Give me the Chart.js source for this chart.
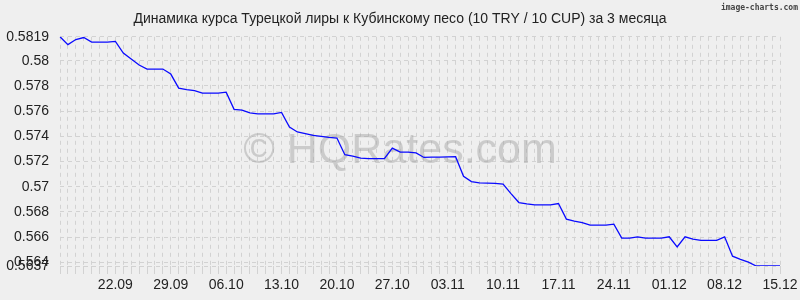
<!DOCTYPE html>
<html>
<head>
<meta charset="utf-8">
<script src="https://cdn.jsdelivr.net/npm/chart.js@4"></script>
<style>
  html, body { margin: 0; padding: 0; background: #efefef; }
  #wrap { width: 800px; height: 300px; position: relative; }
</style>
</head>
<body>
<div id="wrap"><canvas id="rateChart"></canvas></div>
<script>
// daily rate, 15.09 .. 15.12
var startDay = [2023, 8, 15];
var rates = [
  0.5819, 0.58128, 0.58168, 0.58184, 0.58148, 0.58148, 0.58148, 0.58153,
  0.58061, 0.58013, 0.57966, 0.57934, 0.57934, 0.57934, 0.57894, 0.57782,
  0.5777, 0.57762, 0.57742, 0.57742, 0.57742, 0.5775, 0.57614, 0.57608,
  0.57586, 0.57578, 0.57578, 0.57578, 0.5759, 0.57474, 0.57434, 0.57422,
  0.57408, 0.574, 0.57392, 0.57386, 0.57254, 0.57242, 0.57226, 0.57222,
  0.57222, 0.57222, 0.57306, 0.57274, 0.57274, 0.57268, 0.57232, 0.57235,
  0.57235, 0.57236, 0.57238, 0.57082, 0.5704, 0.5703, 0.57028, 0.57026,
  0.5702, 0.56945, 0.56874, 0.56864, 0.56856, 0.56856, 0.56856, 0.56866,
  0.56742, 0.56726, 0.56714, 0.56694, 0.56694, 0.56694, 0.56702, 0.56592,
  0.56592, 0.56602, 0.56592, 0.56592, 0.56592, 0.56602, 0.56522, 0.56602,
  0.56584, 0.56574, 0.56574, 0.56574, 0.56602, 0.56448, 0.56422, 0.564,
  0.5637, 0.5637, 0.5637, 0.5637
];
var xTickLabels = ['22.09', '29.09', '06.10', '13.10', '20.10', '27.10', '03.11',
                   '10.11', '17.11', '24.11', '01.12', '08.12', '15.12'];
var yTicks = [0.5637, 0.564, 0.566, 0.568, 0.57, 0.572, 0.574, 0.576, 0.578, 0.58, 0.5819];

var days = [];
for (var i = 0; i < rates.length; i++) {
  var d = new Date(Date.UTC(startDay[0], startDay[1], startDay[2] + i));
  var dd = ('0' + d.getUTCDate()).slice(-2), mm = ('0' + (d.getUTCMonth() + 1)).slice(-2);
  days.push(dd + '.' + mm);
}

var gridColor = '#d2d2d2';
var font = { family: "'Liberation Sans', Arial, sans-serif", size: 14 };

var watermark = {
  id: 'watermark',
  beforeDatasetsDraw: function(chart) {
    var ctx = chart.ctx;
    ctx.save();
    ctx.font = "43px 'Liberation Sans', Arial, sans-serif";
    ctx.fillStyle = 'rgba(160,160,160,0.45)';
    ctx.textAlign = 'center';
    ctx.textBaseline = 'alphabetic';
    ctx.fillText('\u00a9 HQRates.com', 400, 163);
    ctx.restore();
  }
};

var credit = {
  id: 'credit',
  afterDraw: function(chart) {
    var ctx = chart.ctx;
    ctx.save();
    ctx.font = "bold 8px 'DejaVu Sans Mono', monospace";
    ctx.fillStyle = '#444';
    ctx.textAlign = 'right';
    ctx.textBaseline = 'alphabetic';
    ctx.fillText('image-charts.com', 798, 10);
    ctx.restore();
  }
};

new Chart(document.getElementById('rateChart'), {
  type: 'line',
  data: {
    labels: days,
    datasets: [{
      label: 'TRY/CUP',
      data: rates,
      borderColor: '#0a0aff',
      borderWidth: 1.3,
      pointRadius: 0,
      tension: 0,
      fill: false
    }]
  },
  plugins: [watermark, credit],
  options: {
    responsive: true,
    maintainAspectRatio: false,
    animation: false,
    layout: { padding: 0 },
    plugins: {
      legend: { display: false },
      tooltip: { enabled: false },
      title: {
        display: true,
        text: 'Динамика курса Турецкой лиры к Кубинскому песо (10 TRY / 10 CUP) за 3 месяца',
        color: '#222',
        font: { family: font.family, size: 14, weight: 'normal' },
        padding: { top: 11, bottom: 9 }
      }
    },
    scales: {
      x: {
        type: 'category',
        offset: false,
        border: { display: false, dash: [4, 4] },
        grid: { color: gridColor, tickColor: gridColor, tickLength: 8, drawTicks: true },
        ticks: {
          autoSkip: false,
          maxRotation: 0,
          minRotation: 0,
          padding: 3,
          color: '#222',
          font: font,
          callback: function(v, i) {
            var lab = days[i];
            return xTickLabels.indexOf(lab) >= 0 ? lab : '';
          }
        },
        afterFit: function(scale) {
          scale.height = 34;
          scale.paddingRight = 20;
        }
      },
      y: {
        min: yTicks[0],
        max: yTicks[yTicks.length - 1],
        border: { display: false, dash: [4, 4] },
        grid: { color: gridColor, drawTicks: false },
        afterBuildTicks: function(scale) {
          scale.ticks = yTicks.map(function(v) { return { value: v }; });
        },
        ticks: {
          autoSkip: false,
          padding: 11,
          color: '#222',
          font: font,
          callback: function(v) { return String(Number(v.toFixed(4))); }
        },
        afterFit: function(scale) { scale.width = 60; }
      }
    }
  }
});
</script>
</body>
</html>
